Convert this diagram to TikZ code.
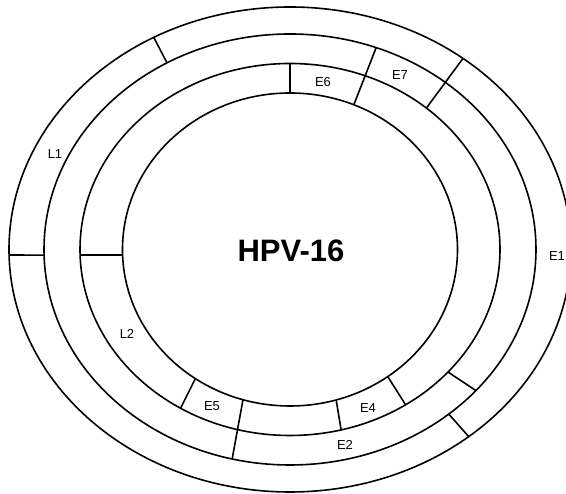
\documentclass[tikz,border=0pt]{standalone}
\usepackage{fontspec}
\setmainfont{Liberation Sans}
\begin{document}
\begin{tikzpicture}[x=1pt,y=1pt,
  ring/.style={line width=1.6pt},
  divider/.style={line width=1.6pt},
  lbl/.style={font=\fontsize{13}{13}\selectfont, inner sep=0pt},
  titlelbl/.style={font=\bfseries\fontsize{31}{31}\selectfont, inner sep=0pt}]
\begin{scope}[shift={(290,244.5)}]
\useasboundingbox (-290,-244.5) rectangle (276,249.5);
\fill[white] (-290,-244.5) rectangle (276,249.5);
% rings
\draw[ring] (0,0) ellipse [x radius=281pt, y radius=242.5pt];
\draw[ring] (0,0) ellipse [x radius=246pt, y radius=215.5pt];
\draw[ring] (0,0) ellipse [x radius=210pt, y radius=186pt];
\draw[ring] (0,0) ellipse [x radius=167.5pt, y radius=156.5pt];
% divider end points
\coordinate (d1a) at (119:281 and 242.5);   \coordinate (d1b) at (120:246 and 215.5);
\coordinate (d2a) at (52:281 and 242.5);    \coordinate (d2b) at (49.5:210 and 186);
\coordinate (d3a) at (69.5:246 and 215.5);  \coordinate (d3b) at (67.6:167.5 and 156.5);
\coordinate (d4a) at (90:210 and 186);      \coordinate (d4b) at (90:167.5 and 156.5);
\coordinate (d5a) at (181.3:281 and 242.5); \coordinate (d5b) at (181.5:246 and 215.5);
\coordinate (d6a) at (181.7:210 and 186);   \coordinate (d6b) at (182:167.5 and 156.5);
\coordinate (d7a) at (235.6:167.5 and 156.5); \coordinate (d7b) at (238.6:210 and 186);
\coordinate (d8a) at (253.7:167.5 and 156.5); \coordinate (d8b) at (256.4:246 and 215.5);
\coordinate (d9a) at (286:167.5 and 156.5); \coordinate (d9b) at (284.1:210 and 186);
\coordinate (d10a) at (305.7:167.5 and 156.5); \coordinate (d10b) at (303.4:210 and 186);
\coordinate (d11a) at (318.8:210 and 186);  \coordinate (d11b) at (319.1:246 and 215.5);
\coordinate (d12a) at (310.2:246 and 215.5); \coordinate (d12b) at (309.5:281 and 242.5);
\foreach \i in {1,...,12}{\draw[divider] (d\i a) -- (d\i b);}
% labels
\node[lbl] (l1) at (-235,95.5) {L1};
\node[lbl] (e6) at (33,167.5) {E6};
\node[lbl] (e7) at (110,174.5) {E7};
\node[lbl] (e1) at (267,-6.5) {E1};
\node[lbl] (l2) at (-163,-84.5) {L2};
\node[lbl] (e5) at (-78,-156.5) {E5};
\node[lbl] (e4) at (78,-158.5) {E4};
\node[lbl] (e2) at (55,-195.5) {E2};
\node[titlelbl] (hpv) at (1,-1.5) {HPV-16};
\end{scope}
\end{tikzpicture}
\end{document}
